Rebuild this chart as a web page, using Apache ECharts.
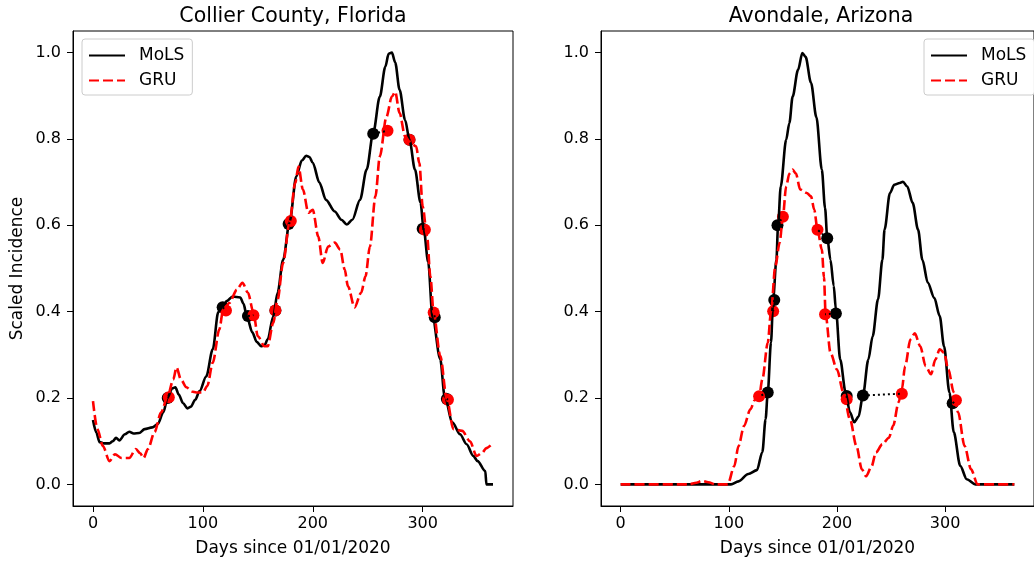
<!DOCTYPE html>
<html>
<head>
<meta charset="utf-8">
<script src="https://cdn.jsdelivr.net/npm/echarts@6/dist/echarts.min.js"></script>
<style>
  html, body { margin: 0; padding: 0; background: #fff; }
  #chart { width: 1034px; height: 562px; }
</style>
</head>
<body>
<div id="chart"></div>
<script>
// panel titles and tick labels
const panelTitles = ['Collier County, Florida', 'Avondale, Arizona'];
const dayTicks = [0, 100, 200, 300];
const incidenceTicks = [0, 0.2, 0.4, 0.6, 0.8, 1.0];

// Collier County: [day, scaled incidence]
const collierMoLS = [[0,0.149],[3,0.12],[6,0.098],[10,0.095],[15,0.095],[18,0.1],[21,0.108],[24,0.102],[29,0.116],[33,0.122],[37,0.118],[42,0.119],[47,0.128],[54,0.132],[59,0.14],[64,0.167],[68,0.202],[72,0.222],[75,0.225],[78,0.208],[82,0.188],[86,0.176],[89,0.18],[93,0.196],[97,0.216],[103,0.25],[109,0.313],[114,0.399],[118,0.413],[122,0.425],[127,0.435],[134,0.433],[137,0.418],[140,0.389],[145,0.352],[149,0.33],[153,0.32],[156,0.322],[159,0.336],[164,0.389],[168,0.444],[173,0.52],[179,0.609],[185,0.713],[190,0.75],[194,0.761],[197,0.758],[200,0.745],[206,0.699],[212,0.659],[220,0.632],[226,0.613],[231,0.602],[236,0.613],[243,0.659],[249,0.729],[255,0.814],[261,0.898],[266,0.967],[269,0.997],[272,1.0],[275,0.977],[279,0.914],[284,0.844],[288,0.798],[293,0.729],[298,0.653],[301,0.59],[305,0.515],[309,0.387],[316,0.29],[320,0.204],[327,0.144],[334,0.116],[340,0.093],[346,0.066],[350,0.054],[357,0.031],[358,0],[364,0]];
const collierGRU = [[0,0.193],[4,0.128],[9,0.089],[15,0.054],[20,0.07],[26,0.061],[33,0.061],[39,0.082],[43,0.072],[46,0.061],[50,0.082],[56,0.121],[62,0.167],[68,0.204],[73,0.243],[76,0.271],[80,0.243],[85,0.225],[90,0.215],[94,0.213],[100,0.213],[104,0.228],[109,0.282],[115,0.359],[118,0.398],[124,0.42],[131,0.451],[136,0.467],[141,0.444],[146,0.398],[150,0.343],[156,0.32],[159,0.32],[164,0.374],[168,0.428],[173,0.513],[179,0.609],[184,0.698],[187,0.736],[191,0.683],[196,0.629],[200,0.636],[205,0.574],[209,0.513],[214,0.551],[220,0.56],[225,0.544],[229,0.498],[232,0.459],[238,0.41],[244,0.444],[248,0.482],[252,0.551],[257,0.667],[261,0.759],[267,0.851],[272,0.898],[275,0.909],[279,0.86],[284,0.806],[288,0.794],[294,0.783],[297,0.744],[300,0.644],[304,0.575],[307,0.482],[310,0.397],[316,0.298],[322,0.197],[328,0.128],[336,0.124],[343,0.1],[349,0.066],[354,0.073],[358,0.084],[364,0.096]];
// threshold points, matched by index (black MoLS <-> red GRU)
const collierMoLSPts = [[68,0.2],[118,0.41],[141,0.39],[166,0.403],[178,0.603],[255,0.812],[288,0.798],[300,0.592],[311,0.387],[322,0.198]];
const collierGRUPts = [[69,0.202],[121,0.403],[146,0.392],[166,0.403],[180,0.61],[268,0.819],[288,0.798],[302,0.59],[310,0.398],[323,0.196]];

// Avondale
const avondaleMoLS = [[0,0],[102,0],[109,0.007],[118,0.024],[126,0.033],[131,0.075],[134,0.151],[136,0.213],[139,0.329],[141,0.429],[144,0.52],[145.5,0.598],[148,0.69],[153,0.798],[156,0.837],[159,0.898],[164,0.96],[168,0.999],[171,0.99],[176,0.93],[181,0.85],[186,0.729],[189,0.64],[191,0.572],[194,0.52],[197,0.46],[199,0.405],[203,0.289],[208,0.213],[212,0.167],[216,0.144],[220,0.157],[224,0.206],[229,0.289],[233,0.343],[238,0.429],[242,0.52],[244,0.59],[249,0.675],[253,0.694],[258,0.698],[261,0.701],[265,0.69],[270,0.652],[275,0.59],[279,0.52],[284,0.467],[290,0.432],[295,0.39],[299,0.32],[304,0.213],[308,0.121],[314,0.043],[320,0.012],[328,0],[364,0]];
const avondaleGRU = [[0,0],[63,0],[70,0.004],[75,0.008],[81,0.005],[88,0],[99,0],[105,0.042],[109,0.089],[114,0.135],[120,0.174],[124,0.195],[128,0.204],[131,0.243],[136,0.328],[139,0.4],[143,0.505],[147,0.56],[150,0.62],[153,0.69],[156,0.72],[159,0.729],[162,0.72],[166,0.683],[172,0.675],[176,0.667],[179,0.636],[182,0.59],[186,0.544],[188,0.48],[189.5,0.394],[194,0.305],[200,0.266],[206,0.213],[212,0.151],[218,0.089],[223,0.035],[227,0.019],[232,0.042],[236,0.074],[242,0.093],[248,0.108],[252,0.136],[257,0.19],[260,0.22],[263,0.274],[268,0.336],[272,0.35],[277,0.32],[282,0.274],[287,0.255],[291,0.289],[295,0.313],[299,0.305],[303,0.266],[308,0.213],[312,0.167],[318,0.089],[324,0.035],[330,0],[364,0]];
const avondaleMoLSPts = [[136,0.213],[142,0.427],[145,0.6],[191,0.57],[199,0.396],[209,0.205],[224,0.206],[307,0.188]];
const avondaleGRUPts = [[128,0.204],[141,0.401],[150,0.62],[182,0.59],[189,0.394],[209,0.197],[260,0.21],[310,0.195]];

const FONT = 'DejaVu Sans';
const chart = echarts.init(document.getElementById('chart'));

function xAxisFor(i) {
  return {
    type: 'value', gridIndex: i, min: -18.2, max: 382.2,
    name: 'Days since 01/01/2020', nameLocation: 'middle', nameGap: 34,
    nameTextStyle: { fontFamily: FONT, fontSize: 17, color: '#000' },
    axisLine: { show: true, onZero: false, lineStyle: { color: '#000', width: 1 } },
    axisTick: { show: true, length: 6, customValues: dayTicks, lineStyle: { color: '#000' } },
    axisLabel: { customValues: dayTicks, margin: 10, fontFamily: FONT, fontSize: 16, color: '#000' },
    splitLine: { show: false }
  };
}
function yAxisFor(i) {
  return {
    type: 'value', gridIndex: i, min: -0.05, max: 1.05,
    name: i === 0 ? 'Scaled Incidence' : '', nameLocation: 'middle', nameGap: 47,
    nameTextStyle: { fontFamily: FONT, fontSize: 17, color: '#000' },
    axisLine: { show: true, onZero: false, lineStyle: { color: '#000', width: 1 } },
    axisTick: { show: true, length: 6, customValues: incidenceTicks, lineStyle: { color: '#000' } },
    axisLabel: { customValues: incidenceTicks, margin: 12, fontFamily: FONT, fontSize: 16, color: '#000',
      formatter: v => v.toFixed(1) },
    splitLine: { show: false }
  };
}

function panelSeries(i, mols, gru, molsPts, gruPts) {
  const s = [
    { name: 'MoLS', type: 'line', xAxisIndex: i, yAxisIndex: i, data: mols, symbol: 'none',
      smooth: 0.3, smoothMonotone: 'x', lineStyle: { color: '#000', width: 2.6 }, itemStyle: { color: '#000' } },
    { name: 'GRU', type: 'line', xAxisIndex: i, yAxisIndex: i, data: gru, symbol: 'none',
      smooth: 0.3, smoothMonotone: 'x', lineStyle: { color: '#ff0000', width: 2.6, type: [10, 4] }, itemStyle: { color: '#ff0000' } },
    { type: 'scatter', xAxisIndex: i, yAxisIndex: i, data: molsPts, symbolSize: 12,
      itemStyle: { color: '#000', opacity: 1 } },
    { type: 'scatter', xAxisIndex: i, yAxisIndex: i, data: gruPts, symbolSize: 12,
      itemStyle: { color: '#ff0000', opacity: 1 } }
  ];
  molsPts.forEach((p, k) => {
    s.push({ type: 'line', xAxisIndex: i, yAxisIndex: i, data: [p, gruPts[k]], symbol: 'none',
      silent: true, lineStyle: { color: '#000', width: 2, type: [2, 3] } });
  });
  return s;
}

function legendAt(left) {
  return {
    left: left, top: 39, orient: 'vertical',
    data: ['MoLS', 'GRU'],
    itemWidth: 36, itemHeight: 14, itemGap: 8,
    padding: [8, 8, 6, 6],
    itemStyle: { opacity: 0 },
    backgroundColor: '#fff', borderColor: '#ccc', borderWidth: 1, borderRadius: 3,
    textStyle: { fontFamily: FONT, fontSize: 17, color: '#000', padding: [0, 0, 0, 9] }
  };
}

const option = {
  animation: false,
  backgroundColor: '#fff',
  graphic: panelTitles.map((t, i) => ({
    type: 'text', x: i === 0 ? 293 : 821, y: 17,
    style: { text: t, fontFamily: FONT, fontSize: 20.5, fill: '#000', align: 'center', verticalAlign: 'middle' }
  })),
  grid: [
    { left: 73, top: 31, width: 440, height: 476, show: true, borderColor: '#000', borderWidth: 1, backgroundColor: '#fff' },
    { left: 601, top: 31, width: 440, height: 476, show: true, borderColor: '#000', borderWidth: 1, backgroundColor: '#fff' }
  ],
  legend: [legendAt(82), legendAt(924)],
  xAxis: [xAxisFor(0), xAxisFor(1)],
  yAxis: [yAxisFor(0), yAxisFor(1)],
  series: panelSeries(0, collierMoLS, collierGRU, collierMoLSPts, collierGRUPts)
    .concat(panelSeries(1, avondaleMoLS, avondaleGRU, avondaleMoLSPts, avondaleGRUPts))
};
chart.setOption(option);
</script>
</body>
</html>
